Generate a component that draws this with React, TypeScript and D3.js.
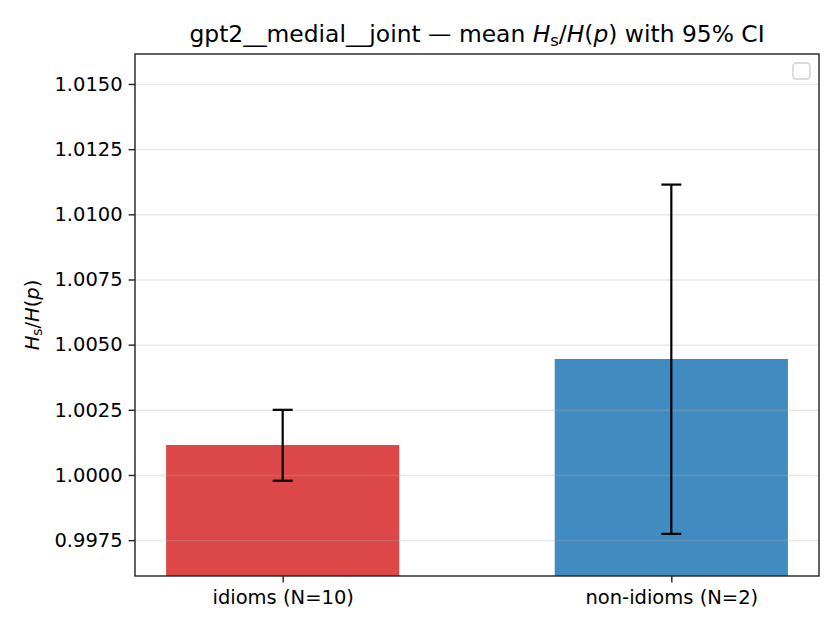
import * as d3 from "d3";
import { useEffect, useRef } from "react";

const groups = ["idioms (N=10)", "non-idioms (N=2)"];
const means = [1.00115, 1.00445];
const ciLow = [0.99978, 0.99774];
const ciHigh = [1.0025, 1.01114];
const barColors = ["#d62728", "#1f77b4"];
const yTicks = [0.9975, 1.0, 1.0025, 1.005, 1.0075, 1.01, 1.0125, 1.015];

const FONT = "'DejaVu Sans', sans-serif";
const TICK_FS = 19.5;
const TITLE_FS = 23.4;

export default function App() {
  const ref = useRef<SVGSVGElement | null>(null);

  useEffect(() => {
    const el = ref.current;
    if (!el) return;
    const svg = d3.select(el);
    svg.selectAll("*").remove();

    const W = 840;
    const H = 630;
    const margin = { top: 54, right: 21, bottom: 54, left: 135 };
    const iw = W - margin.left - margin.right;
    const ih = H - margin.top - margin.bottom;

    const x = d3.scaleLinear().domain([-0.38, 1.38]).range([0, iw]);
    const y = d3.scaleLinear().domain([0.996125, 1.01615]).range([ih, 0]);
    const barW = x(0.6) - x(0);

    svg.attr("viewBox", `0 0 ${W} ${H}`).attr("width", W).attr("height", H);
    svg.append("rect").attr("width", W).attr("height", H).attr("fill", "#fff");

    const g = svg
      .append("g")
      .attr("transform", `translate(${margin.left},${margin.top})`);

    // bars
    g.selectAll("rect.bar")
      .data(groups)
      .join("rect")
      .attr("class", "bar")
      .attr("x", (_, i) => x(i) - barW / 2)
      .attr("width", barW)
      .attr("y", (_, i) => y(means[i]))
      .attr("height", (_, i) => ih - y(means[i]))
      .attr("fill", (_, i) => barColors[i])
      .attr("fill-opacity", 0.85);

    // grid sits above the bars
    g.append("g")
      .call(d3.axisLeft(y).tickValues(yTicks).tickSize(-iw).tickFormat(() => ""))
      .call((ga) => ga.select(".domain").remove())
      .call((ga) =>
        ga
          .selectAll(".tick line")
          .attr("stroke", "#b0b0b0")
          .attr("stroke-opacity", 0.3)
          .attr("stroke-width", 1.4),
      );

    // error bars
    const cap = 10;
    const eb = g
      .selectAll("g.eb")
      .data(groups)
      .join("g")
      .attr("class", "eb")
      .attr("stroke", "#000")
      .attr("stroke-width", 2.2);
    eb.append("line")
      .attr("x1", (_, i) => x(i))
      .attr("x2", (_, i) => x(i))
      .attr("y1", (_, i) => y(ciLow[i]))
      .attr("y2", (_, i) => y(ciHigh[i]));
    eb.append("line")
      .attr("x1", (_, i) => x(i) - cap)
      .attr("x2", (_, i) => x(i) + cap)
      .attr("y1", (_, i) => y(ciLow[i]))
      .attr("y2", (_, i) => y(ciLow[i]));
    eb.append("line")
      .attr("x1", (_, i) => x(i) - cap)
      .attr("x2", (_, i) => x(i) + cap)
      .attr("y1", (_, i) => y(ciHigh[i]))
      .attr("y2", (_, i) => y(ciHigh[i]));

    // axes
    const axisColor = "#222";
    g.append("g")
      .call(
        d3
          .axisLeft(y)
          .tickValues(yTicks)
          .tickSize(6.4)
          .tickPadding(6)
          .tickFormat((d) => d3.format(".4f")(d as number)),
      )
      .call((ga) => ga.select(".domain").remove())
      .call((ga) => ga.selectAll(".tick line").attr("stroke", axisColor).attr("stroke-width", 1.4))
      .call((ga) =>
        ga
          .selectAll(".tick text")
          .attr("fill", "#000")
          .attr("font-size", TICK_FS)
          .attr("font-family", FONT),
      );

    g.append("g")
      .attr("transform", `translate(0,${ih})`)
      .call(
        d3
          .axisBottom(x)
          .tickValues([0, 1])
          .tickSize(6.4)
          .tickPadding(7.5)
          .tickFormat((d) => groups[d as number]),
      )
      .call((ga) => ga.select(".domain").remove())
      .call((ga) => ga.selectAll(".tick line").attr("stroke", axisColor).attr("stroke-width", 1.4))
      .call((ga) =>
        ga
          .selectAll(".tick text")
          .attr("fill", "#000")
          .attr("font-size", TICK_FS)
          .attr("font-family", FONT),
      );

    // frame
    g.append("rect")
      .attr("width", iw)
      .attr("height", ih)
      .attr("fill", "none")
      .attr("stroke", axisColor)
      .attr("stroke-width", 1.4);

    // empty legend box
    g.append("rect")
      .attr("x", iw - 26)
      .attr("y", 9)
      .attr("width", 17)
      .attr("height", 16)
      .attr("rx", 3.5)
      .attr("fill", "#fff")
      .attr("fill-opacity", 0.8)
      .attr("stroke", "#d0d0d0")
      .attr("stroke-width", 1.4);

    // y label
    const yl = svg
      .append("text")
      .attr("transform", `translate(39,${margin.top + ih / 2}) rotate(-90)`)
      .attr("text-anchor", "middle")
      .attr("font-family", FONT)
      .attr("font-size", TICK_FS)
      .attr("fill", "#000");
    yl.append("tspan").attr("font-style", "italic").text("H");
    yl.append("tspan").attr("font-size", 13.7).attr("dy", 3).text("s");
    yl.append("tspan").attr("dy", -3).text("/");
    yl.append("tspan").attr("font-style", "italic").text("H");
    yl.append("tspan").text("(");
    yl.append("tspan").attr("font-style", "italic").text("p");
    yl.append("tspan").text(")");

    // title
    const t = svg
      .append("text")
      .attr("x", margin.left + iw / 2)
      .attr("y", 42)
      .attr("text-anchor", "middle")
      .attr("font-family", FONT)
      .attr("font-size", TITLE_FS)
      .attr("fill", "#000");
    t.append("tspan").text("gpt2__medial__joint — mean ");
    t.append("tspan").attr("font-style", "italic").text("H");
    t.append("tspan").attr("font-size", 16.4).attr("dy", 3.5).text("s");
    t.append("tspan").attr("dy", -3.5).text("/");
    t.append("tspan").attr("font-style", "italic").text("H");
    t.append("tspan").text("(");
    t.append("tspan").attr("font-style", "italic").text("p");
    t.append("tspan").text(") with 95% CI");
  }, []);

  return (
    <svg
      ref={ref}
      style={{ position: "absolute", left: 0, top: 0, display: "block" }}
    />
  );
}
